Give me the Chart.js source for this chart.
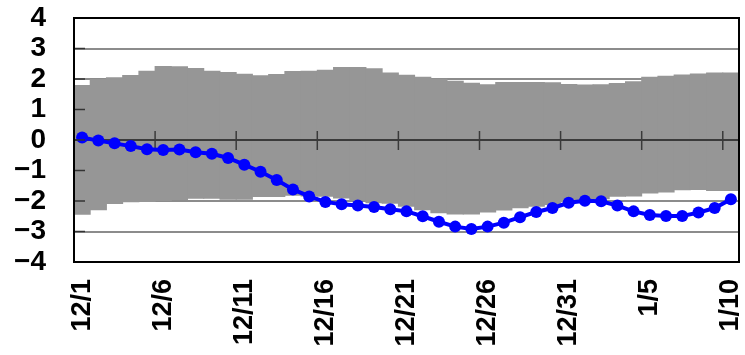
<!DOCTYPE html>
<html>
<head>
<meta charset="utf-8">
<script src="https://cdn.jsdelivr.net/npm/chart.js@4/dist/chart.umd.min.js"></script>
<style>
html,body{margin:0;padding:0;background:#fff;}
#c{display:block;}
</style>
</head>
<body>
<canvas id="c" width="745" height="355"></canvas>
<script>
const categories = ['12/1','12/2','12/3','12/4','12/5','12/6','12/7','12/8','12/9','12/10',
  '12/11','12/12','12/13','12/14','12/15','12/16','12/17','12/18','12/19','12/20',
  '12/21','12/22','12/23','12/24','12/25','12/26','12/27','12/28','12/29','12/30',
  '12/31','1/1','1/2','1/3','1/4','1/5','1/6','1/7','1/8','1/9','1/10'];

const bandHigh = [1.80,2.00,2.06,2.13,2.27,2.43,2.42,2.36,2.27,2.23,
  2.17,2.12,2.16,2.26,2.27,2.30,2.39,2.39,2.35,2.21,
  2.14,2.07,2.01,1.94,1.88,1.83,1.90,1.90,1.90,1.89,
  1.84,1.82,1.83,1.87,1.93,2.07,2.11,2.15,2.18,2.21,2.21];

const bandLow = [-2.45,-2.30,-2.10,-2.04,-2.03,-2.00,-1.97,-1.93,-1.93,-1.96,
  -1.96,-1.87,-1.87,-1.83,-1.85,-1.86,-1.92,-1.99,-2.07,-2.09,
  -2.19,-2.30,-2.40,-2.44,-2.44,-2.38,-2.31,-2.24,-2.19,-2.13,
  -2.04,-1.98,-1.94,-1.86,-1.85,-1.75,-1.72,-1.65,-1.64,-1.67,-1.67];

const seriesValues = [0.08,-0.02,-0.11,-0.20,-0.30,-0.33,-0.31,-0.40,-0.45,-0.59,
  -0.81,-1.04,-1.31,-1.62,-1.85,-2.03,-2.11,-2.15,-2.20,-2.27,
  -2.34,-2.50,-2.68,-2.84,-2.92,-2.84,-2.71,-2.53,-2.36,-2.23,
  -2.06,-1.99,-2.01,-2.15,-2.34,-2.46,-2.49,-2.49,-2.38,-2.23,-1.94];

const yTickValues = [-4,-3,-2,-1,0,1,2,3,4];
const yTickLabels = ['\u22124','\u22123','\u22122','\u22121','0','1','2','3','4'];
const xLabelEvery = 5;
const gridValues = [-3,-2,2,3];

const bandData = categories.map((c,i)=>[bandLow[i], bandHigh[i]]);

function zeroPad(s){ s.paddingLeft = 0; s.paddingRight = 0; s.paddingTop = 0; s.paddingBottom = 0; }

const decor = {
  id:'decor',
  afterDatasetDraw(chart, args){
    if (args.index !== 1) return; // after band bars
    const ctx = chart.ctx, x = chart.scales.x, y = chart.scales.y, a = chart.chartArea;
    const y0 = y.getPixelForValue(0);
    ctx.save();
    ctx.strokeStyle = '#3a3a3a';
    ctx.lineWidth = 2;
    ctx.beginPath(); ctx.moveTo(a.left, y0); ctx.lineTo(a.right, y0); ctx.stroke();
    ctx.lineWidth = 1.5;
    for (let i = xLabelEvery; i < categories.length; i += xLabelEvery) {
      const bx = (x.getPixelForValue(i-1) + x.getPixelForValue(i)) / 2;
      ctx.beginPath(); ctx.moveTo(bx, y0 - 9); ctx.lineTo(bx, y0 + 10); ctx.stroke();
    }
    ctx.restore();
  },
  afterDraw(chart){
    const ctx = chart.ctx, y = chart.scales.y, a = chart.chartArea;
    ctx.save();
    ctx.strokeStyle = '#333';
    ctx.lineWidth = 1.5;
    yTickValues.forEach(v=>{
      const py = y.getPixelForValue(v);
      ctx.beginPath(); ctx.moveTo(a.left, py); ctx.lineTo(a.left + 11, py); ctx.stroke();
    });
    ctx.strokeStyle = '#000';
    ctx.lineWidth = 2;
    ctx.strokeRect(a.left, a.top, a.right - a.left, a.bottom - a.top);
    ctx.restore();
  }
};

new Chart(document.getElementById('c'), {
  data: {
    labels: categories,
    datasets: [
      {
        type:'line',
        data: seriesValues,
        borderColor:'#0000ff',
        backgroundColor:'#0000ff',
        borderWidth:4,
        pointRadius:6,
        pointBackgroundColor:'#0000ff',
        pointBorderWidth:0,
        tension:0,
        order:0
      },
      {
        type:'bar',
        data: bandData,
        backgroundColor:'#969696',
        borderWidth:0,
        barPercentage:1.06,
        categoryPercentage:1,
        order:1
      }
    ]
  },
  options: {
    responsive:false,
    animation:false,
    devicePixelRatio:1,
    layout:{padding:{left:0, right:4, top:18, bottom:0}},
    plugins:{legend:{display:false}, tooltip:{enabled:false}},
    scales:{
      x:{
        type:'category',
        offset:true,
        grid:{display:false, drawTicks:false},
        border:{display:false},
        afterFit(s){ s.height = 93; zeroPad(s); },
        ticks:{
          autoSkip:false,
          maxRotation:90, minRotation:90,
          padding:17,
          color:'#000',
          font:{family:'"Liberation Sans", Arial, sans-serif', size:27, weight:'bold'},
          callback(v, i){ return i % xLabelEvery === 0 ? categories[i] : ''; }
        }
      },
      y:{
        min:-4, max:4,
        afterFit(s){ s.width = 74; zeroPad(s); },
        afterBuildTicks(s){ s.ticks = yTickValues.map(v=>({value:v})); },
        grid:{
          drawTicks:false,
          lineWidth:2,
          color(ctx){ return gridValues.includes(ctx.tick && ctx.tick.value) ? '#8c8c8c' : 'rgba(0,0,0,0)'; }
        },
        border:{display:false},
        ticks:{
          autoSkip:false,
          padding:28,
          color:'#000',
          font:{family:'"Liberation Sans", Arial, sans-serif', size:28, weight:'bold'},
          callback(v){ const k = yTickValues.indexOf(v); return k >= 0 ? yTickLabels[k] : ''; }
        }
      }
    }
  },
  plugins:[decor]
});
</script>
</body>
</html>
